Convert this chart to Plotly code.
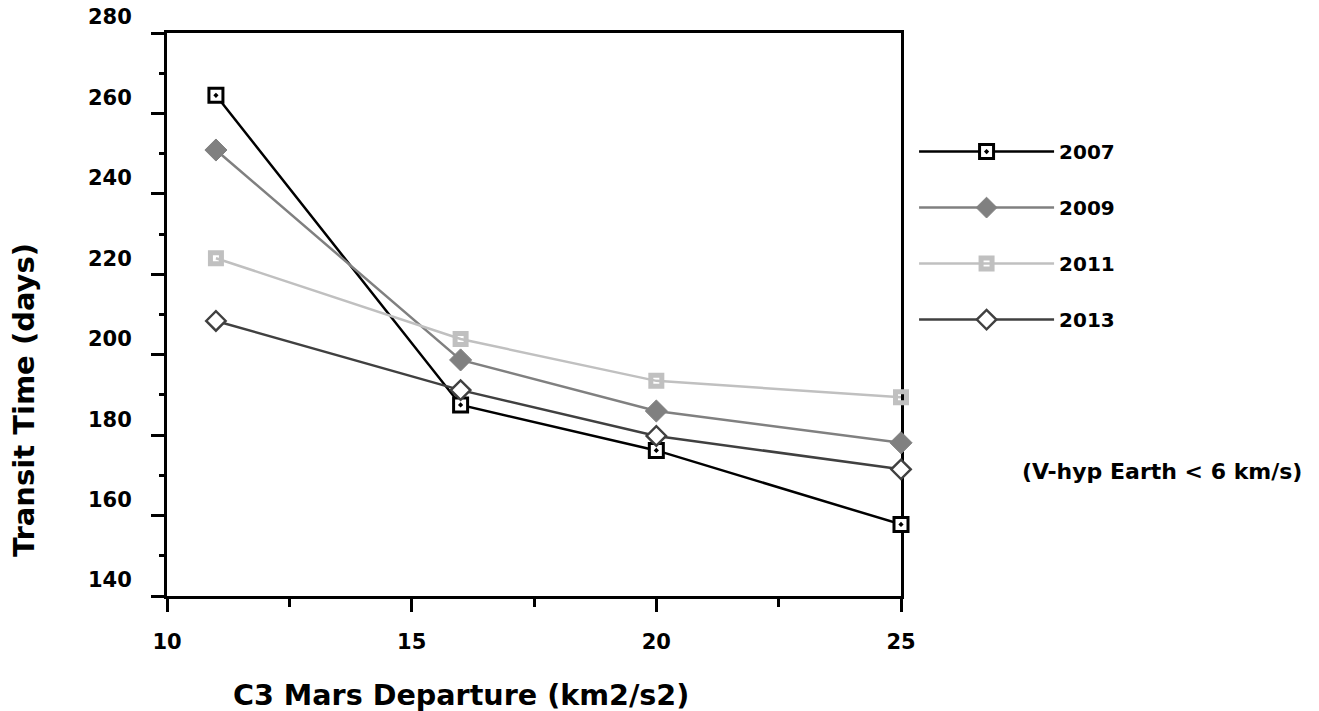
import plotly.graph_objects as go

# ---- data ----
c3_departure = [11, 16, 20, 25]
series_names = ["2007", "2009", "2011", "2013"]
transit_2007 = [264.5, 187.5, 176.2, 157.8]
transit_2009 = [250.9, 198.7, 186.0, 178.1]
transit_2011 = [224.0, 203.9, 193.5, 189.4]
transit_2013 = [208.4, 191.2, 179.8, 171.5]
y_tick_vals = [140, 160, 180, 200, 220, 240, 260, 280]
x_tick_vals = [10, 15, 20, 25]

FONT = "DejaVu Sans"

styles = {
    "2007": dict(line=dict(color="#000000", width=2.5),
                 marker=dict(symbol="square-dot", size=14, color="#ffffff",
                             line=dict(color="#000000", width=3))),
    "2009": dict(line=dict(color="#808080", width=2.5),
                 marker=dict(symbol="diamond", size=17, color="#808080",
                             line=dict(color="#808080", width=1))),
    "2011": dict(line=dict(color="#c0c0c0", width=2.5),
                 marker=dict(symbol="square-open", size=11, color="#c0c0c0",
                             line=dict(color="#c0c0c0", width=5))),
    "2013": dict(line=dict(color="#404040", width=2.5),
                 marker=dict(symbol="diamond", size=15, color="#ffffff",
                             line=dict(color="#404040", width=2.4))),
}

series_values = {
    "2007": transit_2007,
    "2009": transit_2009,
    "2011": transit_2011,
    "2013": transit_2013,
}

fig = go.Figure()
for name in series_names:
    fig.add_trace(go.Scatter(
        x=c3_departure, y=series_values[name], name=name,
        mode="lines+markers", legendgroup=name, cliponaxis=False,
        **styles[name]))

tick_font = dict(family=FONT, size=21, color="#000000", weight="bold")

# the page body adds an 8px margin, so the figure is 8px smaller than the window
fig.update_layout(
    width=1311, height=703,
    margin=dict(l=159, r=418, t=25, b=115),
    paper_bgcolor="#ffffff", plot_bgcolor="#ffffff",
    font=dict(family=FONT, color="#000000", weight="bold"),
    showlegend=True,
    legend=dict(
        x=1.0178, xanchor="left", y=0.824, yanchor="top",
        font=dict(family=FONT, size=20, color="#000000", weight="bold"),
        itemwidth=135, tracegroupgap=27, bgcolor="rgba(0,0,0,0)",
    ),
    xaxis=dict(
        range=[10, 25], tickvals=x_tick_vals, ticktext=[str(v) for v in x_tick_vals],
        showgrid=False, zeroline=False, showline=True, linecolor="#000000",
        linewidth=3, mirror=True, ticks="outside", ticklen=13, tickwidth=2.5,
        tickcolor="#000000", tickfont=tick_font, ticklabelstandoff=12,
        minor=dict(dtick=2.5, tick0=10, ticks="outside", ticklen=8,
                   tickwidth=2.5, tickcolor="#000000", showgrid=False),
        layer="below traces", automargin=False,
    ),
    yaxis=dict(
        range=[140, 280], tickvals=y_tick_vals, ticktext=[str(v) for v in y_tick_vals],
        showgrid=False, zeroline=False, showline=True, linecolor="#000000",
        linewidth=3, mirror=True, ticks="outside", ticklen=13, tickwidth=2.5,
        tickcolor="#000000", tickfont=tick_font, ticklabelstandoff=28,
        ticklabelposition="outside top", ticklabeloverflow="allow",
        minor=dict(dtick=10, tick0=140, ticks="outside", ticklen=5,
                   tickwidth=2.5, tickcolor="#000000", showgrid=False),
        layer="below traces", automargin=False,
    ),
    annotations=[
        dict(text="C3 Mars Departure (km2/s2)", xref="paper", yref="paper",
             x=0.40, y=-0.176, xanchor="center", yanchor="middle", showarrow=False,
             font=dict(family=FONT, size=28.6, color="#000000", weight="bold")),
        dict(text="Transit Time (days)", xref="paper", yref="paper",
             x=-0.1948, y=0.348, xanchor="center", yanchor="middle", showarrow=False,
             textangle=-90,
             font=dict(family=FONT, size=29, color="#000000", weight="bold")),
        dict(text="(V-hyp Earth &lt; 6 km/s)", xref="paper", yref="paper",
             x=1.3556, y=0.222, xanchor="center", yanchor="middle", showarrow=False,
             font=dict(family=FONT, size=22, color="#000000", weight="bold")),
    ],
)

fig.write_html("out.html")
